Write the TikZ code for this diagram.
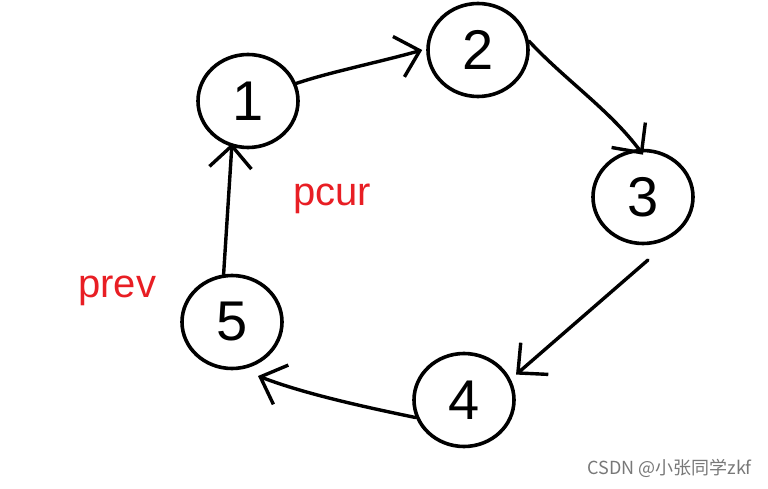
\documentclass[tikz,border=0pt]{standalone}
\usepackage{fontspec}
\setmainfont{Liberation Sans}
\newfontfamily\cjk{Noto Sans CJK SC}
\usetikzlibrary{arrows.meta,shapes.geometric}
\definecolor{lblred}{RGB}{232,30,36}
\definecolor{wmgray}{RGB}{120,120,120}
\tikzset{
  numnode/.style={draw=black, line width=3.6pt, ellipse, minimum width=100pt, minimum height=93pt, inner sep=0pt, font=\fontsize{56}{56}\selectfont},
  link/.style={line width=3.4pt, line cap=round, line join=round, -{Straight Barb[length=22pt,width=42pt,line width=3.4pt]}},
  lbl/.style={text=lblred, font=\fontsize{40}{40}\selectfont, inner sep=0pt},
}
\begin{document}
\begin{tikzpicture}[x=1pt,y=-1pt]
\useasboundingbox (0,0) rectangle (768,489);
\node[numnode] (n1) at (248,101) {1};
\node[numnode] (n2) at (478,50) {2};
\node[numnode] (n3) at (643,197) {3};
\node[numnode] (n4) at (464,400) {4};
\node[numnode] (n5) at (232,322) {5};
\coordinate (s3) at (648,260);
\coordinate (t5) at (258,376);
\draw[link] (n1.20) .. controls (330,72) and (380,62) .. ([xshift=-4pt]n2.west);
\draw[link] (n2.10) .. controls (565,80) and (610,110) .. ([yshift=-6pt]n3.north);
\draw[link] (s3) -- ([xshift=8pt]n4.30);
\draw[link] (n4.200) .. controls (350,404) and (300,392) .. (t5);
\draw[link] (n5.100) -- ([xshift=-16pt,yshift=6pt]n1.south);
\node[lbl, anchor=base west] (pcur) at (293,206) {pcur};
\node[lbl, anchor=base west] (prev) at (78,297) {prev};
\node[anchor=base east, inner sep=0pt, text=wmgray, font=\cjk\fontsize{18}{18}\selectfont] (wm) at (752,474) {CSDN @小张同学zkf};
\end{tikzpicture}
\end{document}
